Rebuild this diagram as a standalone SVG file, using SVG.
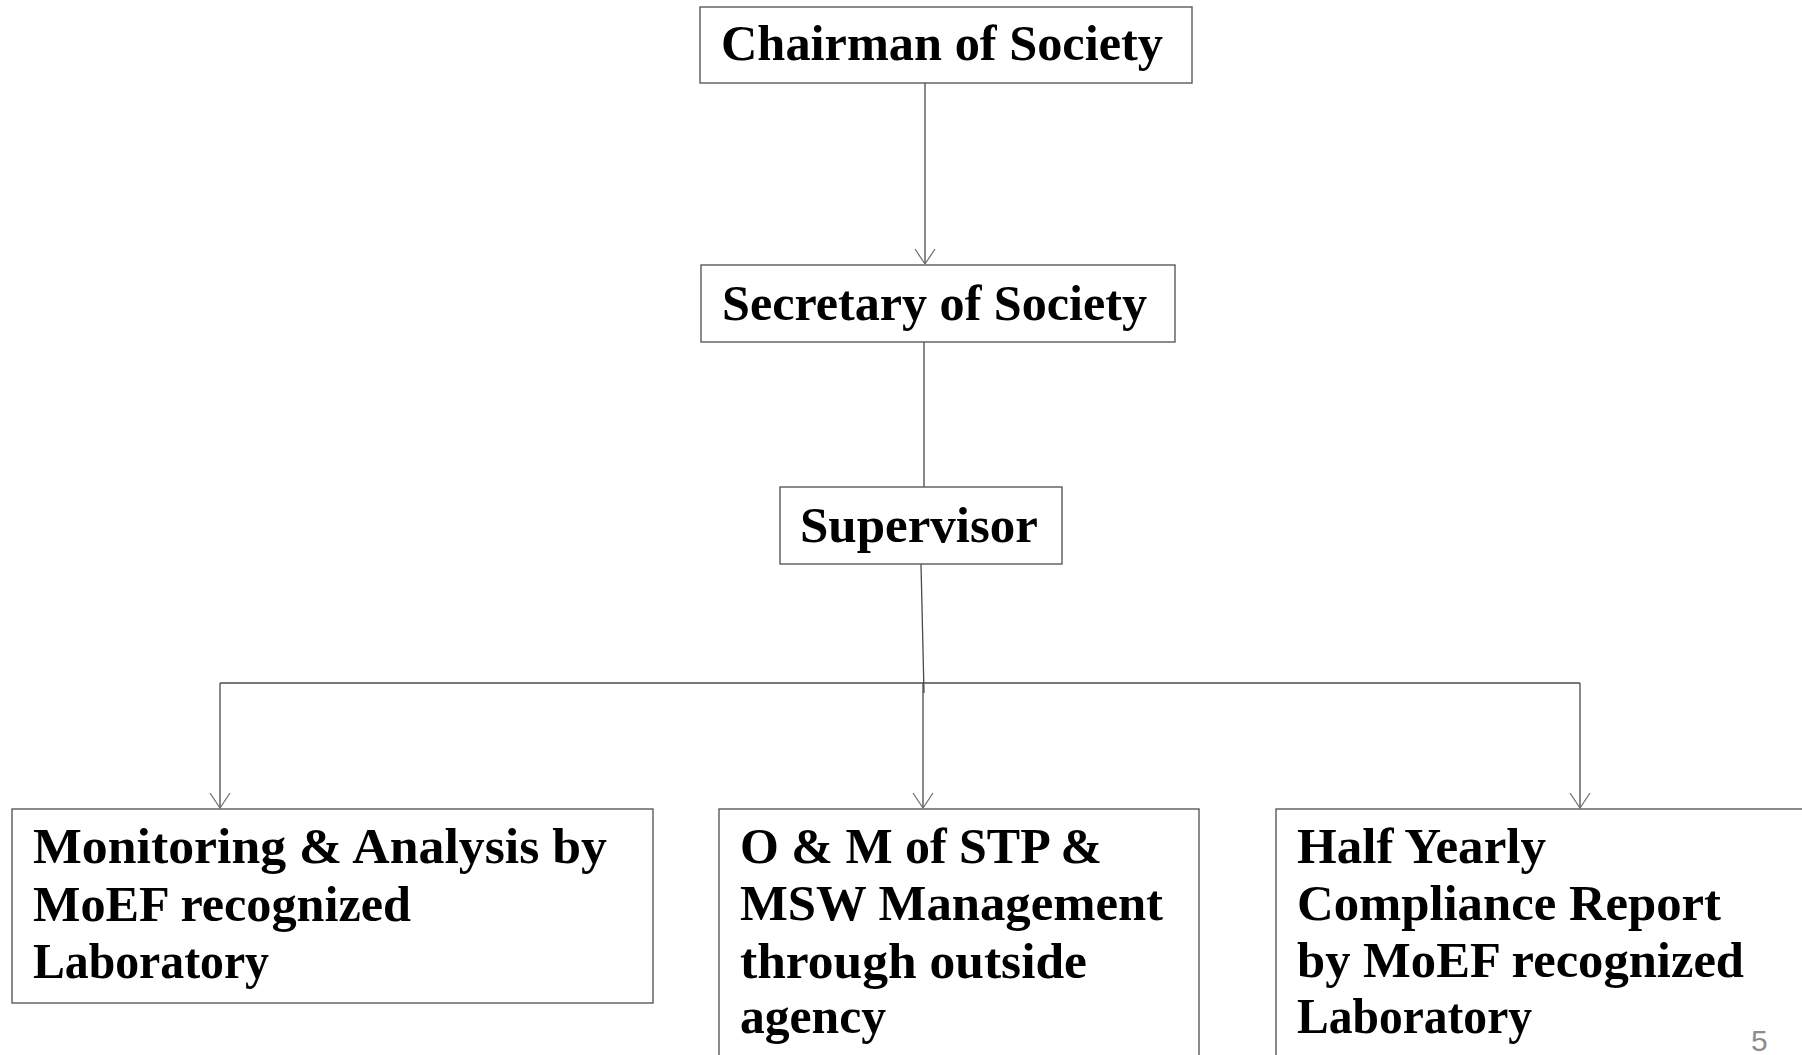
<svg xmlns="http://www.w3.org/2000/svg" width="1802" height="1055" viewBox="0 0 1802 1055">
  <style>
    .box { fill: #ffffff; stroke: #5a5a5a; stroke-width: 1.4; }
    .lbl { font-family: "Liberation Serif", "Times New Roman", serif; font-weight: bold; font-size: 50px; fill: #000000; }
    .conn { fill: none; stroke: #4a4a4a; stroke-width: 1.3; }
    .pg { font-family: "Liberation Sans", Arial, sans-serif; font-size: 30px; fill: #8c8c8c; }
  </style>
  <defs>
    <marker id="arr" markerUnits="userSpaceOnUse" markerWidth="20" markerHeight="24" viewBox="-17 -12 18 24" refX="0" refY="0" orient="auto" overflow="visible">
      <path d="M -15,-10 L 0,0 L -15,10" fill="none" stroke="#6a6a6a" stroke-width="1.2"/>
    </marker>
  </defs>
  <rect width="1802" height="1055" fill="#ffffff"/>

  <g id="connectors">
    <line class="conn" x1="925" y1="83" x2="925" y2="264" marker-end="url(#arr)"/>
    <line class="conn" x1="924" y1="342" x2="924" y2="487"/>
    <line class="conn" x1="921" y1="564" x2="924" y2="693"/>
    <line class="conn" x1="220" y1="683" x2="1580" y2="683"/>
    <line class="conn" x1="220" y1="683" x2="220" y2="808" marker-end="url(#arr)"/>
    <line class="conn" x1="923" y1="683" x2="923" y2="808" marker-end="url(#arr)"/>
    <line class="conn" x1="1580" y1="683" x2="1580" y2="808" marker-end="url(#arr)"/>
  </g>

  <g id="chairman">
    <rect class="box" x="700" y="7" width="492" height="76"/>
    <text class="lbl" x="721" y="60" textLength="442" lengthAdjust="spacingAndGlyphs">Chairman of Society</text>
  </g>

  <g id="secretary">
    <rect class="box" x="701" y="265" width="474" height="77"/>
    <text class="lbl" x="722" y="320" textLength="425" lengthAdjust="spacingAndGlyphs">Secretary of Society</text>
  </g>

  <g id="supervisor">
    <rect class="box" x="780" y="487" width="282" height="77"/>
    <text class="lbl" x="800" y="542" textLength="238" lengthAdjust="spacingAndGlyphs">Supervisor</text>
  </g>

  <g id="monitoring">
    <rect class="box" x="12" y="809" width="641" height="194"/>
    <text class="lbl" x="33" y="863" textLength="574" lengthAdjust="spacingAndGlyphs">Monitoring &amp; Analysis by</text>
    <text class="lbl" x="33" y="921" textLength="378" lengthAdjust="spacingAndGlyphs">MoEF recognized</text>
    <text class="lbl" x="33" y="978" textLength="236" lengthAdjust="spacingAndGlyphs">Laboratory</text>
  </g>

  <g id="om">
    <rect class="box" x="719" y="809" width="480" height="270"/>
    <text class="lbl" x="740" y="863" textLength="362" lengthAdjust="spacingAndGlyphs">O &amp; M of STP &amp;</text>
    <text class="lbl" x="740" y="920" textLength="423" lengthAdjust="spacingAndGlyphs">MSW Management</text>
    <text class="lbl" x="740" y="978" textLength="347" lengthAdjust="spacingAndGlyphs">through outside</text>
    <text class="lbl" x="740" y="1033" textLength="146" lengthAdjust="spacingAndGlyphs">agency</text>
  </g>

  <g id="report">
    <rect class="box" x="1276" y="809" width="560" height="270"/>
    <text class="lbl" x="1297" y="863" textLength="249" lengthAdjust="spacingAndGlyphs">Half Yearly</text>
    <text class="lbl" x="1297" y="920" textLength="424" lengthAdjust="spacingAndGlyphs">Compliance Report</text>
    <text class="lbl" x="1297" y="977" textLength="447" lengthAdjust="spacingAndGlyphs">by MoEF recognized</text>
    <text class="lbl" x="1297" y="1033" textLength="235" lengthAdjust="spacingAndGlyphs">Laboratory</text>
  </g>

  <text class="pg" x="1751" y="1051">5</text>
</svg>
